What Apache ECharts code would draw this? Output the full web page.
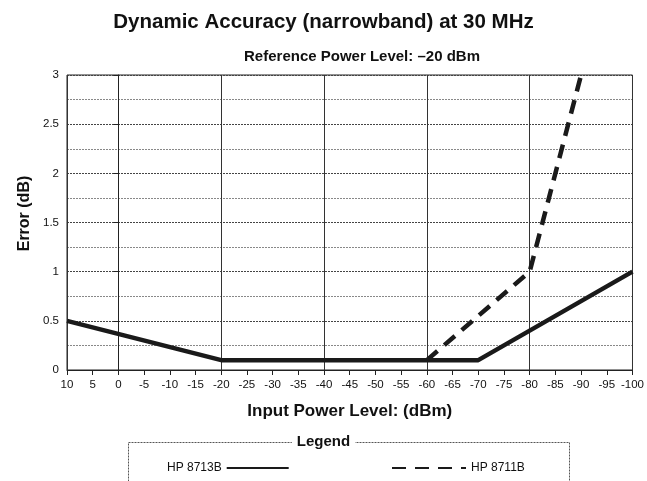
<!DOCTYPE html>
<html><head><meta charset="utf-8">
<script src="https://cdn.jsdelivr.net/npm/echarts@6/dist/echarts.min.js"></script>
<style>html,body{margin:0;padding:0;background:#fff}#c{width:647px;height:481px}</style>
</head><body><div id="c"></div>
<script>
const titleText = 'Dynamic Accuracy (narrowband) at 30 MHz';
const subtitleText = 'Reference Power Level: \u201320 dBm';
const xName = 'Input Power Level: (dBm)';
const yName = 'Error (dB)';
const series8713B = [[10, 0.5], [-20, 0.1], [-70, 0.1], [-100, 1.0]];
const series8711B = [[-60, 0.1], [-80, 1.0], [-90, 3.0]];
const name8713B = 'HP 8713B';
const name8711B = 'HP 8711B';

const chart = echarts.init(document.getElementById('c'), null, {renderer: 'canvas'});
const font = 'Liberation Sans, Arial, sans-serif';
const option = {
  backgroundColor: '#fff',
  animation: false,
  title: [
    {text: titleText, left: 'center', top: 7, textStyle: {fontFamily: font, fontSize: 20.5, fontWeight: 'bold', color: '#111'}},
    {text: subtitleText, left: 357, textAlign: 'center', top: 44, textStyle: {fontFamily: font, fontSize: 15, fontWeight: 'bold', color: '#111'}}
  ],
  grid: {left: 67, right: 11, top: 75, bottom: 111, show: true, borderColor: '#222', borderWidth: 1},
  xAxis: [
    {type: 'value', min: -100, max: 10, interval: 5, inverse: true,
     name: xName, nameLocation: 'middle', nameGap: 33,
     nameTextStyle: {fontFamily: font, fontSize: 17, fontWeight: 'bold', color: '#111'},
     axisLine: {lineStyle: {color: '#222'}},
     axisTick: {show: true, length: 5, lineStyle: {color: '#222'}},
     axisLabel: {fontFamily: font, fontSize: 11.5, color: '#111', margin: 9},
     splitLine: {show: false}},
    {type: 'value', min: -100, max: 10, interval: 20, inverse: true, position: 'bottom',
     axisLine: {show: false}, axisTick: {show: false}, axisLabel: {show: false},
     splitLine: {show: true, lineStyle: {color: '#333', width: 1}}}
  ],
  yAxis: {type: 'value', min: 0, max: 3, interval: 0.5,
    name: yName, nameLocation: 'middle', nameGap: 34, nameRotate: 90,
    nameTextStyle: {fontFamily: font, fontSize: 16, fontWeight: 'bold', color: '#111', padding: [0, 0, 0, 18]},
    axisLine: {show: true, lineStyle: {color: '#222'}},
    axisTick: {show: true, length: 5, lineStyle: {color: '#222'}},
    axisLabel: {fontFamily: font, fontSize: 11.5, color: '#111', margin: 8},
    splitLine: {show: true, lineStyle: {color: '#444', type: [2, 1], width: 1}},
    minorTick: {show: false, splitNumber: 2},
    minorSplitLine: {show: true, lineStyle: {color: '#888', type: [2, 1], width: 1}}
  },
  legend: [
    {data: [name8713B], left: 162, top: 457, align: 'right', itemWidth: 62, itemHeight: 8, itemGap: 10,
     itemStyle: {opacity: 0},
     textStyle: {fontFamily: font, fontSize: 12, color: '#111'}},
    {data: [name8711B], left: 386, top: 457, align: 'left', itemWidth: 74, itemHeight: 8,
     itemStyle: {opacity: 0},
     textStyle: {fontFamily: font, fontSize: 12, color: '#111'}}
  ],
  graphic: [
    {type: 'rect', shape: {x: 128.5, y: 442.5, width: 441, height: 60}, style: {fill: 'none', stroke: '#555', lineWidth: 1, lineDash: [2, 1]}},
    {type: 'text', left: 'center', top: 434, style: {text: 'Legend', font: 'bold 15px Liberation Sans, Arial, sans-serif', fill: '#111', backgroundColor: '#fff', padding: [0, 5]}}
  ],
  series: [
    {name: name8713B, type: 'line', data: series8713B, symbol: 'none', xAxisIndex: 0,
     lineStyle: {color: '#1a1a1a', width: 4.5}, itemStyle: {color: '#1a1a1a'}, z: 3},
    {name: name8711B, type: 'line', data: series8711B, symbol: 'none', xAxisIndex: 0,
     lineStyle: {color: '#1a1a1a', width: 4.5, type: [14, 9]}, itemStyle: {color: '#1a1a1a'}, z: 2}
  ]
};
chart.setOption(option);
</script></body></html>
